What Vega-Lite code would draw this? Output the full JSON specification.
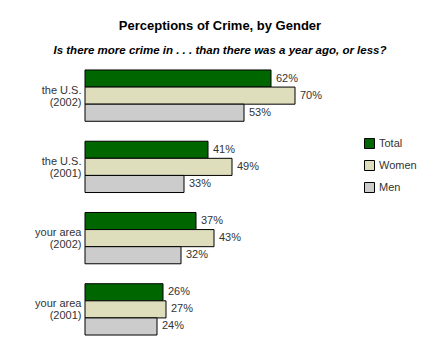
{
  "$schema": "https://vega.github.io/schema/vega-lite/v6.json",
  "width": 240,
  "height": 285,
  "autosize": {"type": "none"},
  "padding": {"left": 85, "top": 60, "right": 115, "bottom": 10},
  "background": "white",
  "title": {
    "text": "Perceptions of Crime, by Gender",
    "subtitle": "Is there more crime in . . . than there was a year ago, or less?",
    "anchor": "middle",
    "dx": 15,
    "offset": 4,
    "font": "Liberation Sans",
    "fontSize": 13,
    "fontWeight": "bold",
    "color": "#000000",
    "subtitleFont": "Liberation Sans",
    "subtitleFontSize": 11.5,
    "subtitleFontWeight": "bold",
    "subtitleFontStyle": "italic",
    "subtitleColor": "#000000",
    "subtitlePadding": 12
  },
  "data": {
    "values": [
      {"area": "the U.S. (2002)", "group": "Total", "value": 0.62},
      {"area": "the U.S. (2002)", "group": "Women", "value": 0.70},
      {"area": "the U.S. (2002)", "group": "Men", "value": 0.53},
      {"area": "the U.S. (2001)", "group": "Total", "value": 0.41},
      {"area": "the U.S. (2001)", "group": "Women", "value": 0.49},
      {"area": "the U.S. (2001)", "group": "Men", "value": 0.33},
      {"area": "your area (2002)", "group": "Total", "value": 0.37},
      {"area": "your area (2002)", "group": "Women", "value": 0.43},
      {"area": "your area (2002)", "group": "Men", "value": 0.32},
      {"area": "your area (2001)", "group": "Total", "value": 0.26},
      {"area": "your area (2001)", "group": "Women", "value": 0.27},
      {"area": "your area (2001)", "group": "Men", "value": 0.24}
    ]
  },
  "encoding": {
    "y": {
      "field": "area",
      "type": "nominal",
      "sort": ["the U.S. (2002)", "the U.S. (2001)", "your area (2002)", "your area (2001)"],
      "scale": {"paddingInner": 0.28, "paddingOuter": 0.14},
      "axis": {
        "title": null,
        "domain": false,
        "ticks": false,
        "labelPadding": 4,
        "labelOffset": -5,
        "labelFont": "Liberation Sans",
        "labelFontSize": 11,
        "labelColor": "#333333",
        "labelLineHeight": 12,
        "labelExpr": "[slice(datum.label, 0, indexof(datum.label, ' (')), slice(datum.label, indexof(datum.label, ' (') + 1)]"
      }
    },
    "yOffset": {
      "field": "group",
      "type": "nominal",
      "sort": ["Total", "Women", "Men"],
      "scale": {"paddingInner": 0, "paddingOuter": 0}
    },
    "x": {
      "field": "value",
      "type": "quantitative",
      "scale": {"domain": [0, 0.8], "nice": false},
      "axis": null
    }
  },
  "layer": [
    {
      "mark": {"type": "bar", "stroke": "#000000", "strokeWidth": 1, "strokeOpacity": 1},
      "encoding": {
        "color": {
          "field": "group",
          "type": "nominal",
          "sort": ["Total", "Women", "Men"],
          "scale": {"domain": ["Total", "Women", "Men"], "range": ["#006600", "#DEDEBC", "#CCCCCC"]},
          "legend": {
            "title": null,
            "orient": "none",
            "legendX": 279,
            "legendY": 78,
            "symbolType": "square",
            "symbolSize": 100,
            "symbolStrokeColor": "#000000",
            "symbolStrokeWidth": 1,
            "symbolOpacity": 1,
            "labelFont": "Liberation Sans",
            "labelFontSize": 11,
            "labelColor": "#333333",
            "labelOffset": 4,
            "rowPadding": 7
          }
        }
      }
    },
    {
      "mark": {
        "type": "text",
        "align": "left",
        "baseline": "middle",
        "dx": 5,
        "font": "Liberation Sans",
        "fontSize": 11,
        "fill": "#333333"
      },
      "encoding": {
        "text": {"field": "value", "type": "quantitative", "format": ".0%"}
      }
    }
  ],
  "config": {
    "view": {"stroke": null}
  }
}
